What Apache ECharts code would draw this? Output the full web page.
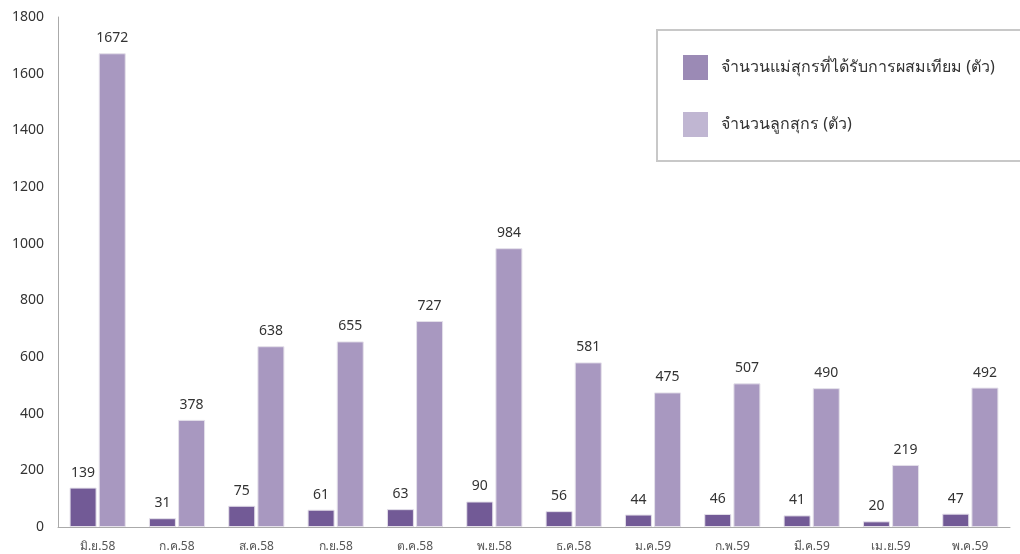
<!DOCTYPE html>
<html><head><meta charset="utf-8">
<script src="https://cdn.jsdelivr.net/npm/echarts@6/dist/echarts.min.js"></script>
<style>html,body{margin:0;padding:0;background:#fff}#c{width:1020px;height:554px}</style>
</head><body><div id="c"></div>
<script>
var categories = ['มิ.ย.58','ก.ค.58','ส.ค.58','ก.ย.58','ต.ค.58','พ.ย.58','ธ.ค.58','ม.ค.59','ก.พ.59','มี.ค.59','เม.ย.59','พ.ค.59'];
var sows = [139,31,75,61,63,90,56,44,46,41,20,47];
var piglets = [1672,378,638,655,727,984,581,475,507,490,219,492];
var seriesNames = ['จำนวนแม่สุกรที่ได้รับการผสมเทียม (ตัว)','จำนวนลูกสุกร (ตัว)'];
var yTicks = [0,200,400,600,800,1000,1200,1400,1600,1800];

var chart = echarts.init(document.getElementById('c'));
var ff = "'Noto Sans', 'DejaVu Sans', sans-serif";
chart.setOption({
  animation:false,
  textStyle:{fontFamily:ff},
  grid:{left:58,right:10,top:17,bottom:27},
  legend:{
    orient:'vertical', left:657, top:30,
    padding:[25,80,24,26],
    borderColor:'#c8c8c8', borderWidth:2,
    icon:'rect',
    itemWidth:25, itemHeight:25, itemGap:32,
    textStyle:{fontSize:16,color:'#333',fontFamily:ff, padding:[0,0,0,8]},
    data:[
      {name:seriesNames[0], itemStyle:{color:'#9b8ab5', borderWidth:0}},
      {name:seriesNames[1], itemStyle:{color:'#c0b6d2', borderWidth:0}}
    ]
  },
  xAxis:{
    type:'category', data:categories,
    axisLine:{lineStyle:{color:'#aaa',width:1}},
    axisTick:{show:false},
    axisLabel:{fontSize:12,color:'#555',margin:14}
  },
  yAxis:{
    type:'value', min:0, max:1800, interval:200,
    axisLine:{show:true,lineStyle:{color:'#aaa'}},
    axisTick:{show:false},
    splitLine:{show:false},
    axisLabel:{fontSize:14,color:'#333',margin:14,formatter:function(v){return String(v);}}
  },
  series:[
    {name:seriesNames[0], type:'bar', data:sows, barWidth:27, barGap:'8%',
     itemStyle:{color:'#725a96', borderColor:'#e4e0ea', borderWidth:1},
     label:{show:true,position:'top',distance:8,fontSize:14,color:'#333'}},
    {name:seriesNames[1], type:'bar', data:piglets, barWidth:27,
     itemStyle:{color:'#a898c0', borderColor:'#e4e0ea', borderWidth:1},
     label:{show:true,position:'top',distance:8,fontSize:14,color:'#333'}}
  ]
});
</script></body></html>
